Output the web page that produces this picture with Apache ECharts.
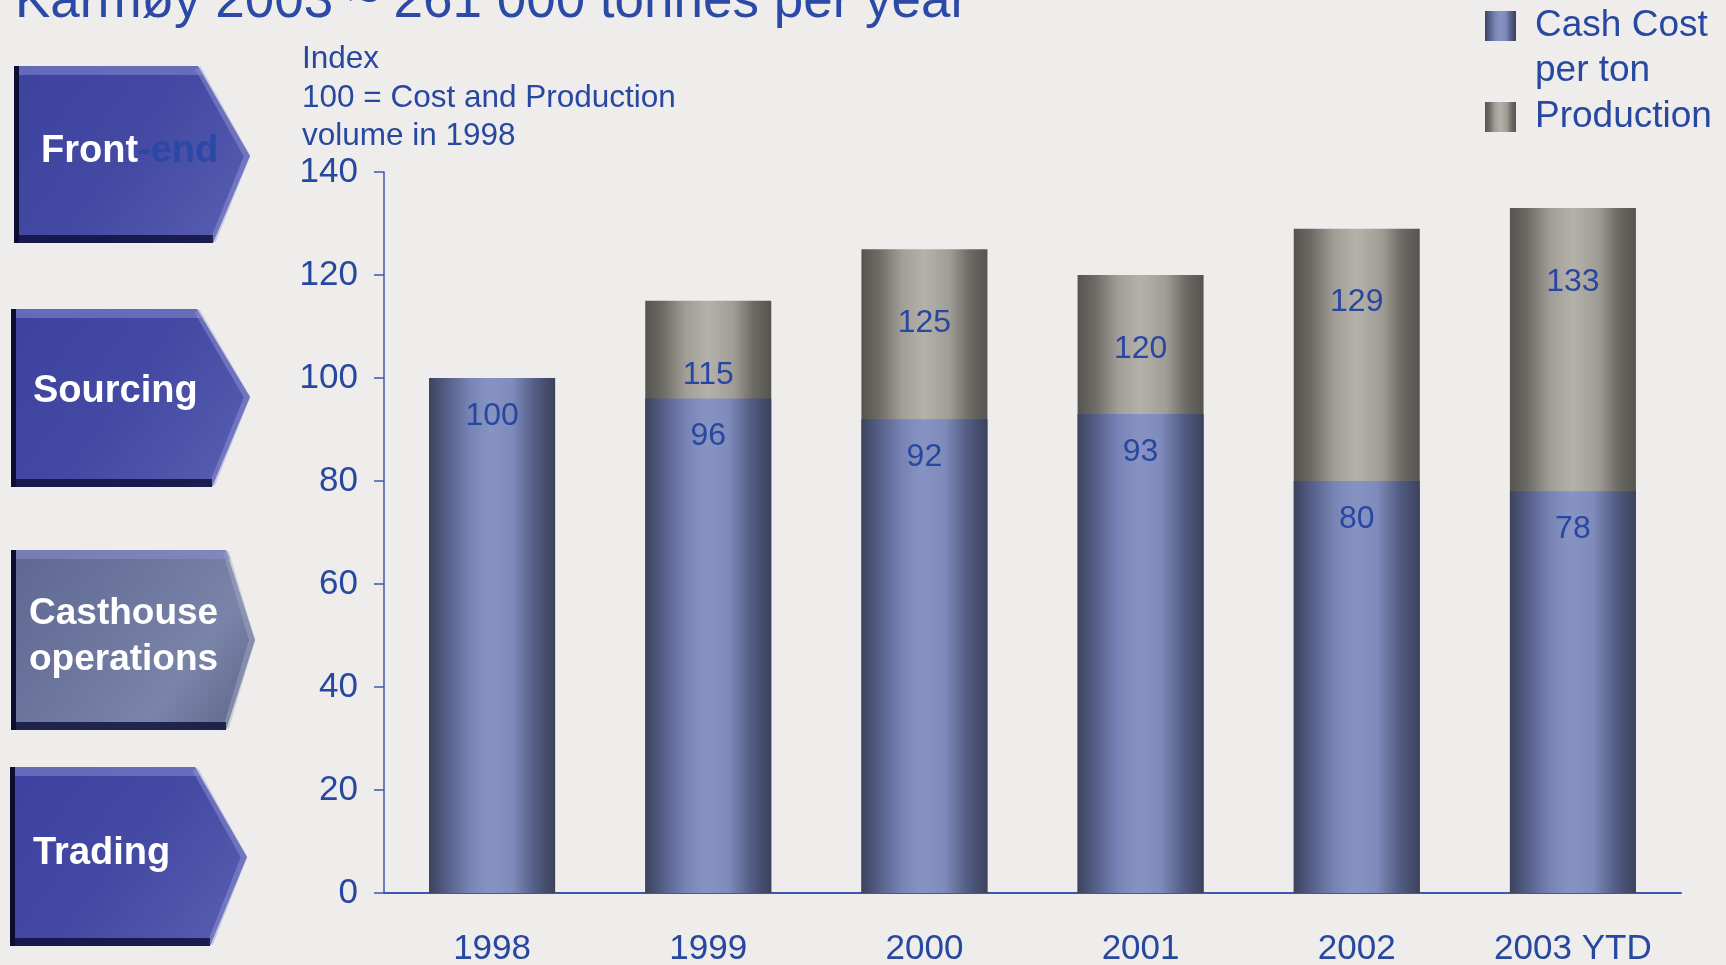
<!DOCTYPE html>
<html>
<head>
<meta charset="utf-8">
<script src="https://cdn.jsdelivr.net/npm/echarts@6/dist/echarts.min.js"></script>
<style>
html,body{margin:0;padding:0;background:#eeedeb;}
#c{width:1726px;height:965px;}
</style>
</head>
<body>
<div id="c"></div>
<script>
// ---- data ----
const years = ['1998', '1999', '2000', '2001', '2002', '2003 YTD'];
const cashCost = [100, 96, 92, 93, 80, 78];
const production = [100, 115, 125, 120, 129, 133];
const seriesNames = ['Cash Cost', 'Production'];
const legendLabels = [' \nCash Cost\nper ton', 'Production'];
const titleText = 'Karmøy 2003 ~ 261 000 tonnes per year';
const indexNote = ['Index', '100 = Cost and Production', 'volume in 1998'];
const stepLabels = ['Front-end', 'Sourcing', 'Casthouse\noperations', 'Trading'];

const FONT = '"Liberation Sans", Arial, sans-serif';
const BLUE_TXT = '#2747a0';
const AXIS = '#3b59b0';

const chart = echarts.init(document.getElementById('c'));

const blueGrad = new echarts.graphic.LinearGradient(0, 0, 1, 0, [
  {offset: 0, color: '#3c435e'},
  {offset: 0.14, color: '#555f88'},
  {offset: 0.32, color: '#7683b4'},
  {offset: 0.48, color: '#8794c3'},
  {offset: 0.66, color: '#7e8bbb'},
  {offset: 0.84, color: '#535c83'},
  {offset: 1, color: '#3b425d'}
]);
const grayGrad = new echarts.graphic.LinearGradient(0, 0, 1, 0, [
  {offset: 0, color: '#55544f'},
  {offset: 0.14, color: '#6d6b65'},
  {offset: 0.32, color: '#a19e97'},
  {offset: 0.5, color: '#b4b1ab'},
  {offset: 0.7, color: '#a09d96'},
  {offset: 0.86, color: '#6c6a64'},
  {offset: 1, color: '#55544f'}
]);

// left process boxes
function arrowBox(b, fillGrad, edgeLight) {
  const pts = [[b.x0, b.y0], [b.sTop, b.y0], [b.tipX, b.tipY], [b.sBot, b.y1], [b.x0, b.y1]];
  return [
    {type: 'polygon', shape: {points: pts}, style: {fill: fillGrad}, silent: true},
    {type: 'polyline', shape: {points: [[b.sTop, b.y0 + 2], [b.tipX - 3, b.tipY], [b.sBot, b.y1 - 2]]},
      style: {stroke: edgeLight, lineWidth: 6, fill: null}, silent: true},
    {type: 'polygon', shape: {points: [[b.x0, b.y0], [b.sTop, b.y0], [b.sTop + 5, b.y0 + 9], [b.x0, b.y0 + 9]]},
      style: {fill: 'rgba(140,145,210,0.5)'}, silent: true},
    {type: 'rect', shape: {x: b.x0, y: b.y1 - 8, width: b.sBot - b.x0, height: 8},
      style: {fill: 'rgba(12,14,55,0.8)'}, silent: true},
    {type: 'rect', shape: {x: b.x0, y: b.y0, width: 5, height: b.y1 - b.y0},
      style: {fill: '#0b0d33'}, silent: true}
  ];
}
const blueBox = new echarts.graphic.LinearGradient(0, 0, 1, 1, [
  {offset: 0, color: '#3d42a0'},
  {offset: 0.5, color: '#4449a3'},
  {offset: 1, color: '#5a60b2'}
]);
const castBox = new echarts.graphic.LinearGradient(0, 0, 1, 1, [
  {offset: 0, color: '#5d6790'},
  {offset: 0.45, color: '#6f789f'},
  {offset: 0.7, color: '#7a84a8'},
  {offset: 1, color: '#5c6588'}
]);

const boxes = [
  {x0: 14, y0: 66, y1: 243, sTop: 198, sBot: 213, tipX: 250, tipY: 156, fill: blueBox, edge: 'rgba(150,155,215,0.45)'},
  {x0: 11, y0: 309, y1: 487, sTop: 197, sBot: 212, tipX: 250, tipY: 397, fill: blueBox, edge: 'rgba(150,155,215,0.45)'},
  {x0: 11, y0: 550, y1: 730, sTop: 226, sBot: 226, tipX: 255, tipY: 640, fill: castBox, edge: 'rgba(165,172,195,0.45)'},
  {x0: 10, y0: 767, y1: 946, sTop: 195, sBot: 210, tipX: 247, tipY: 857, fill: blueBox, edge: 'rgba(150,155,215,0.45)'}
];

let graphics = [];
boxes.forEach(b => { graphics = graphics.concat(arrowBox(b, b.fill, b.edge)); });

const BOXFONT = 'bold 38px ' + FONT;
graphics.push({
  type: 'text', x: 41, y: 152, silent: true,
  style: {text: '{w|Front}{b|-end}', verticalAlign: 'middle', font: BOXFONT,
    rich: {w: {fill: '#ffffff', font: BOXFONT}, b: {fill: '#2a48a8', font: BOXFONT}}}
});
graphics.push({type: 'text', x: 33, y: 392, silent: true,
  style: {text: stepLabels[1], verticalAlign: 'middle', font: BOXFONT, fill: '#ffffff'}});
graphics.push({type: 'text', x: 29, y: 637, silent: true,
  style: {text: stepLabels[2], verticalAlign: 'middle', lineHeight: 46, font: 'bold 37px ' + FONT, fill: '#ffffff'}});
graphics.push({type: 'text', x: 33, y: 854, silent: true,
  style: {text: stepLabels[3], verticalAlign: 'middle', font: BOXFONT, fill: '#ffffff'}});

// title (cut at top as in the slide)
graphics.push({type: 'text', x: 15, y: 2, silent: true,
  style: {text: titleText, verticalAlign: 'middle', fontFamily: FONT, fontSize: 53, fill: '#2b49a6'}});
// index note
indexNote.forEach((t, i) => {
  graphics.push({type: 'text', x: 302, y: 59.5 + i * 38.5, silent: true,
    style: {text: t, verticalAlign: 'middle', fontFamily: FONT, fontSize: 31.5, fill: BLUE_TXT}});
});

const option = {
  backgroundColor: '#eeedeb',
  animation: false,
  textStyle: {fontFamily: FONT},
  grid: {left: 384, right: 45, top: 172, bottom: 72, containLabel: false, outerBoundsMode: 'none'},
  legend: {
    orient: 'vertical',
    left: 1485,
    top: -41.5,
    padding: 0,
    itemGap: 1,
    itemWidth: 31,
    itemHeight: 30,
    icon: 'rect',
    formatter: name => legendLabels[seriesNames.indexOf(name)],
    textStyle: {fontSize: 37, color: BLUE_TXT, fontFamily: FONT, lineHeight: 45, padding: [0, 0, 0, 14]},
    data: [seriesNames[0], seriesNames[1]]
  },
  xAxis: {
    type: 'category',
    data: years,
    axisLine: {lineStyle: {color: AXIS, width: 2}},
    axisTick: {show: false},
    axisLabel: {fontSize: 35, color: BLUE_TXT, margin: 39, fontFamily: FONT}
  },
  yAxis: {
    type: 'value',
    min: 0, max: 140, interval: 20,
    axisLine: {show: true, lineStyle: {color: AXIS, width: 1.5}},
    axisTick: {show: true, length: 10, lineStyle: {color: AXIS, width: 1.5}},
    splitLine: {show: false},
    axisLabel: {fontSize: 35, color: BLUE_TXT, margin: 26, fontFamily: FONT, padding: [8, 0, 0, 0]}
  },
  series: [
    {
      name: seriesNames[1],
      type: 'bar',
      data: production,
      barWidth: 126,
      itemStyle: {color: grayGrad},
      label: {
        show: true, position: 'insideTop', distance: 58,
        fontSize: 32, color: BLUE_TXT, fontFamily: FONT,
        formatter: p => (production[p.dataIndex] === cashCost[p.dataIndex] ? '' : String(p.value))
      },
      z: 2
    },
    {
      name: seriesNames[0],
      type: 'bar',
      data: cashCost,
      barWidth: 126,
      barGap: '-100%',
      itemStyle: {color: blueGrad},
      label: {show: true, position: 'insideTop', distance: 22, fontSize: 32, color: BLUE_TXT, fontFamily: FONT},
      z: 3
    }
  ],
  graphic: graphics
};
chart.setOption(option);
</script>
</body>
</html>
